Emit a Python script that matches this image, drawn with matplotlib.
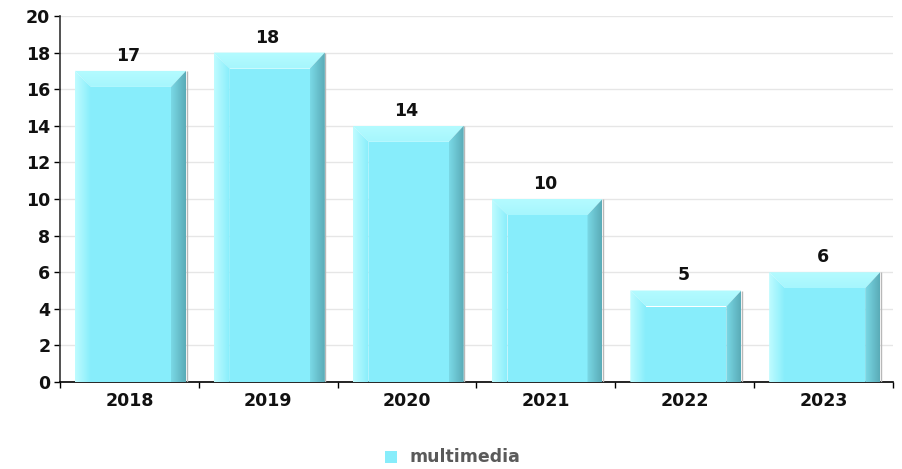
import numpy as np
import matplotlib
matplotlib.use("Agg")
import matplotlib.pyplot as plt
from matplotlib.patches import Polygon, Rectangle
from matplotlib.colors import LinearSegmentedColormap

years = ["2018", "2019", "2020", "2021", "2022", "2023"]
values = [17, 18, 14, 10, 5, 6]
series_name = "multimedia"

FRONT = "#87edfb"
TOP = "#a6f6fd"
FS = 12.5

fig = plt.figure(figsize=(9.03, 4.69), dpi=100)
ax = fig.add_axes([60 / 903, 87 / 469, 833 / 903, 366 / 469])
ax.set_xlim(-0.5, len(years) - 0.5)
ax.set_ylim(0, 20)

# one pixel in data units
px_x = len(years) / 833.0
px_y = 20 / 366.0
bx_l = 16 * px_x
bx_r = 15 * px_x
by = 16 * px_y
left_off = -0.5 + 15 * px_x
right_off = -0.5 + 126 * px_x


def gradient_fill(ax, poly, c0, c1, x0, x1, y0, y1, horizontal=True):
    cmap = LinearSegmentedColormap.from_list("g", [c0, c1])
    grad = np.linspace(0, 1, 64)
    img = grad[None, :] if horizontal else grad[:, None]
    im = ax.imshow(img, cmap=cmap, extent=[x0, x1, y0, y1], origin="lower",
                   aspect="auto", zorder=3, interpolation="bilinear")
    im.set_clip_path(poly)


for i, v in enumerate(values):
    L = i + left_off
    R = i + right_off
    iL, iR = L + bx_l, R - bx_r
    it = v - by
    # front face
    ax.add_patch(Rectangle((iL, 0), iR - iL, it, facecolor=FRONT,
                           edgecolor="none", zorder=3))
    # top bevel
    tp = Polygon([(L, v), (R, v), (iR, it), (iL, it)], closed=True,
                 facecolor="none", edgecolor="none")
    ax.add_patch(tp)
    gradient_fill(ax, tp, TOP, "#b4fbff", L, R, it, v, horizontal=False)
    # left bevel (light gradient)
    lp = Polygon([(L, 0), (L, v), (iL, it), (iL, 0)], closed=True,
                 facecolor="none", edgecolor="none")
    ax.add_patch(lp)
    gradient_fill(ax, lp, "#bffcff", FRONT, L, iL, 0, v)
    # right bevel (dark gradient)
    rp = Polygon([(R, 0), (R, v), (iR, it), (iR, 0)], closed=True,
                 facecolor="none", edgecolor="none")
    ax.add_patch(rp)
    gradient_fill(ax, rp, "#7ad9e6", "#5aabb7", iR, R, 0, v)
    # thin shadow edge
    ax.plot([R + 0.5 * px_x, R + 0.5 * px_x], [0, v], color="#b8b8b8",
            lw=1.0, zorder=2.9, solid_capstyle="butt")
    ax.text((L + R) / 2 - 2 * px_x, v + 6 * px_y, str(v), ha="center",
            va="bottom", fontsize=FS, fontweight="bold", color="#111111",
            zorder=5)

ax.set_yticks(np.arange(0, 21, 2))
ax.yaxis.grid(True, color="#e6e6e6", lw=1.0, zorder=0)
ax.set_axisbelow(True)
ax.set_xticks(np.arange(-0.5, len(years), 1.0))
ax.set_xticklabels([])
ax.set_xticks(np.arange(len(years)), minor=True)
ax.set_xticklabels(years, minor=True)
ax.tick_params(axis="x", which="minor", length=0, pad=7)
ax.tick_params(axis="x", which="major", length=4, width=1, color="black",
               direction="out")
ax.tick_params(axis="y", length=4, width=1, direction="out", pad=3)
for lab in ax.get_xticklabels(minor=True) + ax.get_yticklabels():
    lab.set_fontweight("bold")
    lab.set_fontsize(FS)
    lab.set_color("#111111")

for s in ["top", "right"]:
    ax.spines[s].set_visible(False)
ax.spines["left"].set_color("#333333")
ax.spines["bottom"].set_color("black")
ax.spines["left"].set_linewidth(1.2)
ax.spines["bottom"].set_linewidth(1.2)

# legend
fig.patches.append(Rectangle((385 / 903, 1 - 463 / 469), 12 / 903, 12 / 469,
                             transform=fig.transFigure, facecolor=FRONT,
                             edgecolor="none"))
fig.text(410 / 903, 1 - 457 / 469, series_name, ha="left", va="center",
         fontsize=FS, fontweight="bold", color="#5a5a5a")

fig.savefig("out.png", dpi=100)
